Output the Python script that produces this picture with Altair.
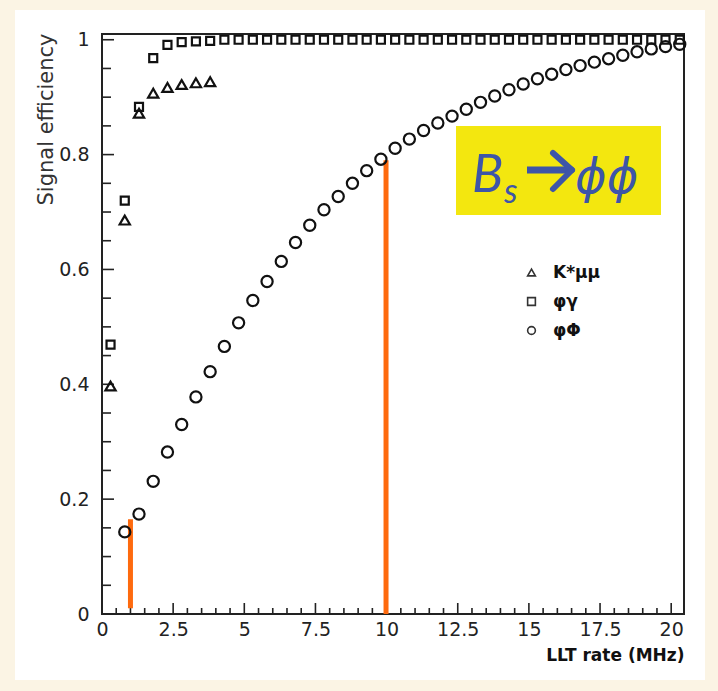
import altair as alt
import pandas as pd

# ---------------- data ----------------
series_names = ["K*μμ", "φγ", "φΦ"]

kmumu_x = [0.3, 0.8, 1.3, 1.8, 2.3, 2.8, 3.3, 3.8]
kmumu_y = [0.397, 0.686, 0.872, 0.907, 0.917, 0.922, 0.925, 0.927]

phigamma_x = [0.3, 0.8, 1.3, 1.8, 2.3, 2.8, 3.3, 3.8, 4.3, 4.8, 5.3, 5.8, 6.3, 6.8,
              7.3, 7.8, 8.3, 8.8, 9.3, 9.8, 10.3, 10.8, 11.3, 11.8, 12.3, 12.8, 13.3,
              13.8, 14.3, 14.8, 15.3, 15.8, 16.3, 16.8, 17.3, 17.8, 18.3, 18.8, 19.3,
              19.8, 20.3]
phigamma_y = [0.469, 0.720, 0.883, 0.968, 0.991, 0.996, 0.997, 0.998, 1.0, 1.0, 1.0,
              1.0, 1.0, 1.0, 1.0, 1.0, 1.0, 1.0, 1.0, 1.0, 1.0, 1.0, 1.0, 1.0, 1.0,
              1.0, 1.0, 1.0, 1.0, 1.0, 1.0, 1.0, 1.0, 1.0, 1.0, 1.0, 1.0, 1.0, 1.0,
              1.0, 1.0]

phiphi_x = [0.8, 1.3, 1.8, 2.3, 2.8, 3.3, 3.8, 4.3, 4.8, 5.3, 5.8, 6.3, 6.8, 7.3,
            7.8, 8.3, 8.8, 9.3, 9.8, 10.3, 10.8, 11.3, 11.8, 12.3, 12.8, 13.3, 13.8,
            14.3, 14.8, 15.3, 15.8, 16.3, 16.8, 17.3, 17.8, 18.3, 18.8, 19.3, 19.8, 20.3]
phiphi_y = [0.143, 0.174, 0.231, 0.282, 0.330, 0.378, 0.422, 0.466, 0.507, 0.546,
            0.579, 0.614, 0.647, 0.677, 0.704, 0.727, 0.750, 0.772, 0.792, 0.811,
            0.827, 0.842, 0.855, 0.867, 0.879, 0.891, 0.902, 0.913, 0.923, 0.932,
            0.940, 0.948, 0.955, 0.961, 0.967, 0.973, 0.979, 0.984, 0.988, 0.992]

# orange markers
marker_x = [1.0, 9.98]
marker_top = [0.165, 0.79]
marker_bottom = [0.01, 0.0]

# axis ticks
x_major = [0, 2.5, 5, 7.5, 10, 12.5, 15, 17.5, 20]
x_minor = [0.5, 1, 1.5, 2, 3, 3.5, 4, 4.5, 5.5, 6, 6.5, 7, 8, 8.5, 9, 9.5, 10.5, 11,
           11.5, 12, 13, 13.5, 14, 14.5, 15.5, 16, 16.5, 17, 18, 18.5, 19, 19.5]
y_major = [0, 0.2, 0.4, 0.6, 0.8, 1.0]
y_minor = [0.05, 0.1, 0.15, 0.25, 0.3, 0.35, 0.45, 0.5, 0.55, 0.65, 0.7, 0.75, 0.85,
           0.9, 0.95]

X_DOMAIN = [0, 20.45]
Y_DOMAIN = [0, 1.01]
W, H = 582, 580

# ---------------- tables ----------------
df_k = pd.DataFrame({"series": "K*μμ", "rate": kmumu_x, "eff": kmumu_y})
df_g = pd.DataFrame({"series": "φγ", "rate": phigamma_x, "eff": phigamma_y})
df_p = pd.DataFrame({"series": "φΦ", "rate": phiphi_x, "eff": phiphi_y})
markers = pd.DataFrame({"rate": marker_x, "top": marker_top, "bottom": marker_bottom})
xmaj = pd.DataFrame({"rate": x_major})
xmin = pd.DataFrame({"rate": x_minor})
ymaj = pd.DataFrame({"eff": y_major})
ymin = pd.DataFrame({"eff": y_minor})
one = pd.DataFrame({"k": [0]})

FONT = "DejaVu Sans"
xs = alt.Scale(domain=X_DOMAIN, nice=False, zero=False)
ys = alt.Scale(domain=Y_DOMAIN, nice=False, zero=False)

x_axis = alt.Axis(values=x_major, labelExpr="datum.value + ''", ticks=False, domain=False,
                  grid=False, labelFont=FONT, labelFontSize=19, labelColor="#222",
                  labelPadding=6, labelFlush=False, labelOverlap=False,
                  title="LLT rate (MHz)", titleFont=FONT, titleFontSize=17,
                  titleFontWeight="bold", titleColor="#111", titleAlign="right",
                  titleBaseline="middle", titleX=W, titleY=41, zindex=2)
y_axis = alt.Axis(values=y_major, labelExpr="datum.value + ''", ticks=False, domain=False,
                  grid=False, labelFont=FONT, labelFontSize=19, labelColor="#222",
                  labelPadding=13, labelFlush=False, labelOverlap=False,
                  title="Signal efficiency", titleFont=FONT, titleFontSize=21,
                  titleFontWeight="normal", titleColor="#333", titleAngle=270,
                  titleAlign="right", titleBaseline="middle", titleX=-56, titleY=-1,
                  zindex=2)

X = lambda f="rate": alt.X(f"{f}:Q", scale=xs, axis=x_axis)
Y = lambda f="eff": alt.Y(f"{f}:Q", scale=ys, axis=y_axis)

# white panel
panel = alt.Chart(one).mark_rect(fill="white").encode(
    x=alt.value(-87), x2=alt.value(603), y=alt.value(-24), y2=alt.value(646))

frame = alt.Chart(one).mark_rect(filled=False, stroke="#222", strokeWidth=2).encode(
    x=alt.value(0), x2=alt.value(W), y=alt.value(0), y2=alt.value(H))

xt_major = alt.Chart(xmaj).mark_rule(color="#222", strokeWidth=1.6).encode(
    x=X(), y=alt.value(H), y2=alt.value(H - 11))
xt_minor = alt.Chart(xmin).mark_rule(color="#222", strokeWidth=1.6).encode(
    x=X(), y=alt.value(H), y2=alt.value(H - 6))
yt_major = alt.Chart(ymaj).mark_rule(color="#222", strokeWidth=1.6).encode(
    y=Y(), x=alt.value(0), x2=alt.value(12))
yt_minor = alt.Chart(ymin).mark_rule(color="#222", strokeWidth=1.6).encode(
    y=Y(), x=alt.value(0), x2=alt.value(9))

orange = alt.Chart(markers).mark_rule(color="#fe6a0e", strokeWidth=5).encode(
    x=X(), y=Y("top"), y2="bottom:Q")

legend = alt.Legend(title=None, orient="none", legendX=421, legendY=230, padding=0,
                    symbolSize=60, symbolStrokeWidth=1.6, symbolStrokeColor="#333",
                    symbolFillColor="transparent", labelFont=FONT, labelFontSize=17,
                    labelFontWeight="bold", labelColor="#111", labelOffset=13,
                    rowPadding=11, zindex=3)
shape_enc = alt.Shape("series:N",
                      scale=alt.Scale(domain=series_names,
                                      range=["triangle-up", "square", "circle"]),
                      legend=legend)


def pts_layer(df, size):
    return alt.Chart(df).mark_point(filled=False, strokeWidth=2.2, opacity=1,
                                    size=size, color="#111").encode(
        x=X(), y=Y(), shape=shape_enc)


p_phi = pts_layer(df_p, 125)
p_gam = pts_layer(df_g, 64)
p_k = pts_layer(df_k, 105)

# yellow label box
box = alt.Chart(one).mark_rect(fill="#f3e70f").encode(
    x=alt.value(354), x2=alt.value(559), y=alt.value(92), y2=alt.value(181))
BLUE = "#3d55a8"
t_b = alt.Chart(one).mark_text(text="B", font="Lato", fontStyle="italic", fontSize=52,
                               color=BLUE, align="left", baseline="alphabetic").encode(
    x=alt.value(370), y=alt.value(158))
t_s = alt.Chart(one).mark_text(text="s", font="Lato", fontStyle="italic", fontSize=34,
                               color=BLUE, align="left", baseline="alphabetic").encode(
    x=alt.value(402), y=alt.value(169))
arrow_shaft = alt.Chart(one).mark_rule(color=BLUE, strokeWidth=7).encode(
    x=alt.value(425), x2=alt.value(467), y=alt.value(136), y2=alt.value(136))
arrow_up = alt.Chart(one).mark_rule(color=BLUE, strokeWidth=6, strokeCap="round").encode(
    x=alt.value(451), x2=alt.value(470), y=alt.value(119), y2=alt.value(136))
arrow_dn = alt.Chart(one).mark_rule(color=BLUE, strokeWidth=6, strokeCap="round").encode(
    x=alt.value(451), x2=alt.value(470), y=alt.value(155), y2=alt.value(136))
t_phi = alt.Chart(one).mark_text(text="ϕϕ", font="DejaVu Sans", fontStyle="italic",
                                 fontSize=48, color=BLUE, align="left",
                                 baseline="alphabetic").encode(
    x=alt.value(473), y=alt.value(159))

chart = alt.layer(
    panel, frame, xt_major, xt_minor, yt_major, yt_minor, orange, p_phi, p_gam, p_k,
    box, t_b, t_s, arrow_shaft, arrow_up, arrow_dn, t_phi
).properties(
    width=W, height=H, background="#fbf4e4",
    padding={"left": 102, "top": 34, "right": 34, "bottom": 77},
    autosize=alt.AutoSizeParams(type="none"),
).configure_view(stroke=None)

chart.save("out.html", embed_options={"renderer": "svg", "actions": False})
